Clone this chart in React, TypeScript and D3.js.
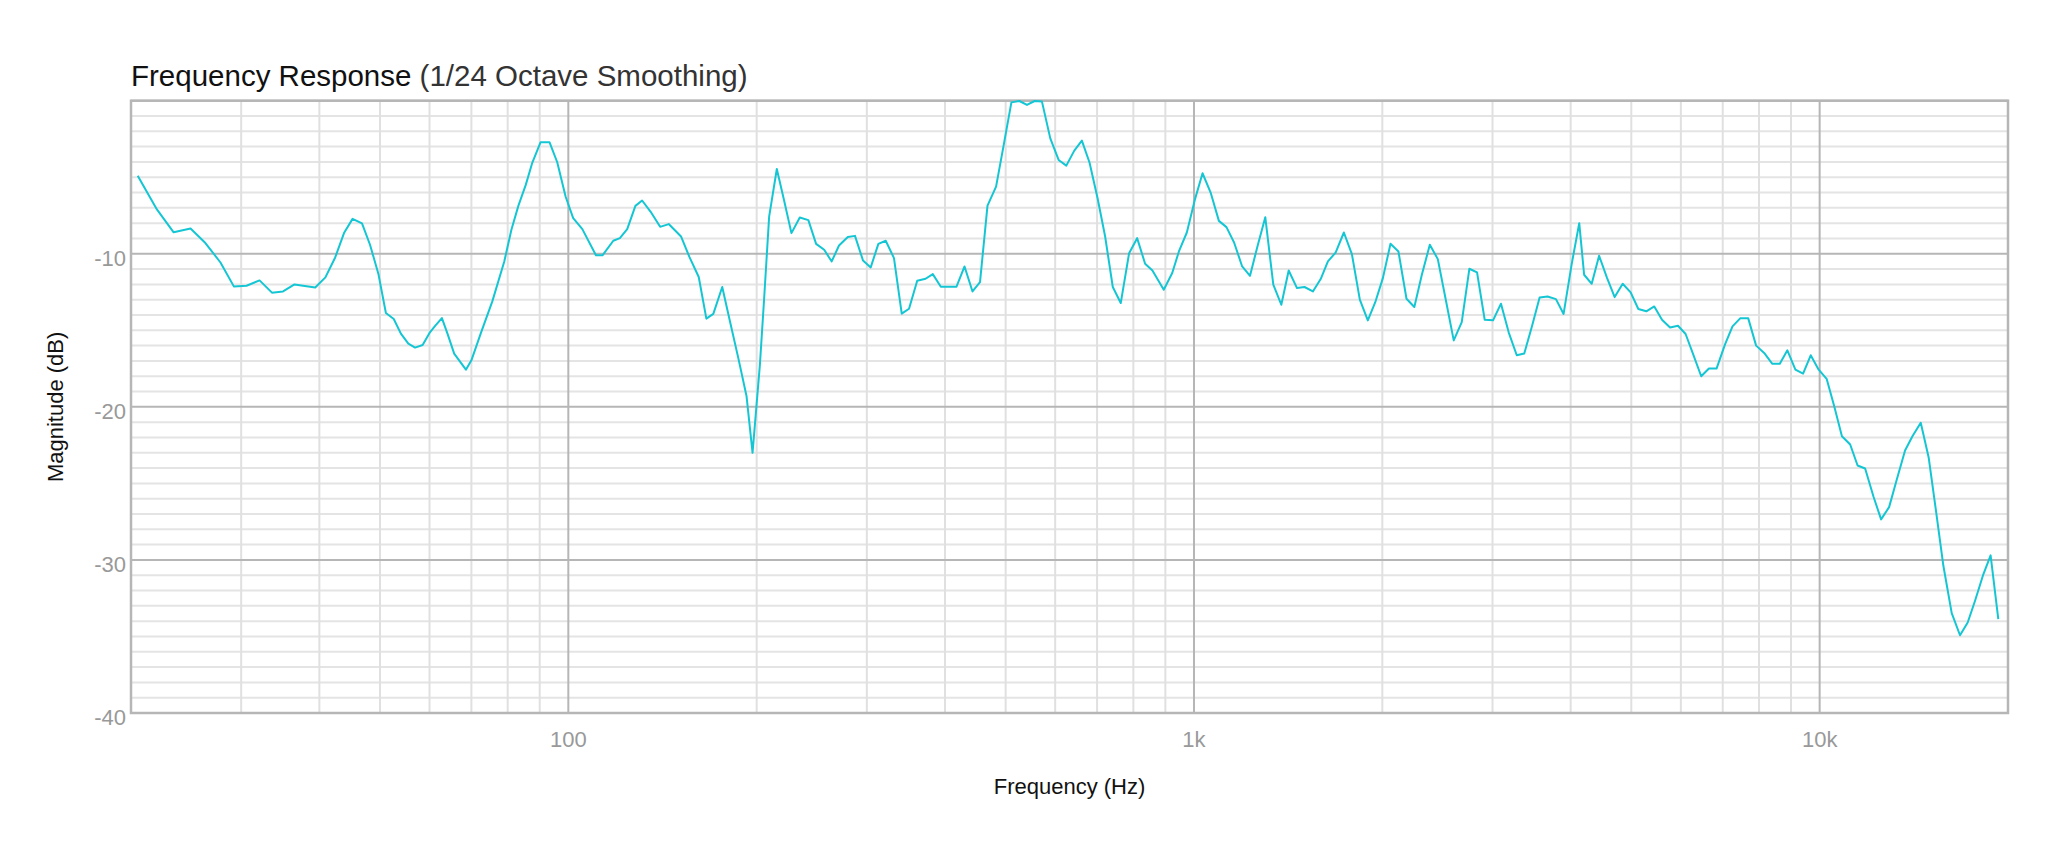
import React from 'react';
import * as d3 from 'd3';

// frequency (Hz) of each smoothed point
const FREQS: number[] = [
  20.5, 22.0, 23.4, 24.9, 26.3, 27.8, 29.2, 30.6, 32.1, 33.6, 35.0, 36.5, 39.4, 40.9, 42.4, 43.8,
  45.2, 46.8, 48.2, 49.7, 51.1, 52.6, 54.0, 55.5, 56.9, 58.5, 60.0, 61.3, 62.8, 64.1, 65.7, 68.6,
  70.0, 72.5, 75.6, 79.0, 81.1, 83.2, 85.5, 87.6, 90.3, 93.3, 96.0, 99.0, 101.8, 105.3, 110.7, 113.4,
  118.0, 120.9, 124.2, 128.0, 131.2, 135.4, 140.2, 144.7, 151.4, 156.2, 161.6, 166.2, 170.5, 176.2,
  181.3, 186.9, 192.7, 197.0, 202.4, 205.6, 209.4, 215.4, 221.3, 227.3, 234.4, 241.9, 248.9, 256.4,
  263.6, 270.8, 279.7, 287.2, 295.8, 304.3, 313.0, 321.6, 331.5, 341.1, 350.4, 361.1, 372.4, 382.4,
  393.9, 417.3, 429.8, 442.6, 455.0, 467.7, 482.7, 496.5, 510.7, 526.0, 540.8, 556.3, 571.5, 589.3,
  607.6, 625.1, 643.7, 661.9, 680.8, 701.3, 721.1, 741.7, 763.7, 787.6, 811.2, 835.4, 858.2, 894.7,
  923, 946, 974, 1003, 1032, 1064, 1096, 1127, 1159, 1194, 1229, 1263, 1300, 1339, 1379, 1417,
  1461, 1502, 1549, 1594, 1637, 1684, 1736, 1788, 1841, 1896, 1948, 2004, 2061, 2122, 2186, 2250,
  2313, 2382, 2453, 2526, 2601, 2679, 2755, 2834, 2915, 3006, 3095, 3184, 3280, 3372, 3469, 3568,
  3674, 3789, 3897, 4013, 4128, 4203, 4322, 4441, 4574, 4703, 4844, 4988, 5131, 5284, 5441, 5598,
  5766, 5937, 6106, 6281, 6467, 6653, 6842, 7057, 7256, 7464, 7689, 7915, 8153, 8396, 8636, 8880,
  9146, 9408, 9676, 9964, 10260, 10551, 10854, 11189, 11498, 11822, 12193, 12537, 12912, 13283, 13693, 14070,
  14507, 14939, 15346, 15769, 16258, 16762, 17243, 17711, 18265, 18760, 19299,
];

// magnitude (dB) at each frequency
const MAGS: number[] = [
  -4.9, -7.1, -8.6, -8.35, -9.3, -10.57, -12.13, -12.09, -11.74, -12.54, -12.46, -12.0, -12.2, -11.54, -10.24, -8.65,
  -7.72, -8.02, -9.41, -11.3, -13.87, -14.26, -15.22, -15.87, -16.13, -15.96, -15.17, -14.7, -14.2, -15.22, -16.52, -17.57,
  -16.96, -15.17, -13.11, -10.5, -8.43, -6.87, -5.5, -4.04, -2.71, -2.71, -4.02, -6.26, -7.67, -8.39, -10.1, -10.1,
  -9.15, -8.98, -8.39, -6.87, -6.52, -7.26, -8.24, -8.06, -8.87, -10.22, -11.52, -14.24, -13.93, -12.17,
  -14.42, -16.8, -19.31, -23.0, -17.24, -12.89, -7.57, -4.46, -6.54, -8.65, -7.63, -7.8, -9.35, -9.74,
  -10.5, -9.46, -8.91, -8.83, -10.44, -10.89, -9.35, -9.15, -10.28, -13.91, -13.59, -11.76, -11.63, -11.33,
  -12.15, -12.15, -10.83, -12.46, -11.85, -6.85, -5.61, -2.89, -0.11, -0.02, -0.28, -0.02, -0.06, -2.46,
  -3.87, -4.24, -3.26, -2.61, -4.04, -6.37, -8.87, -12.17, -13.22, -9.96, -8.98, -10.65, -11.09, -12.35,
  -11.26, -9.85, -8.61, -6.48, -4.74, -6.04, -7.85, -8.26, -9.26, -10.83, -11.44, -9.52, -7.61, -12.02, -13.33, -11.09,
  -12.24, -12.17, -12.46, -11.65, -10.5, -9.92, -8.61, -10.02, -13.0, -14.35, -13.18, -11.59, -9.35, -9.85, -12.94, -13.48,
  -11.37, -9.41, -10.35, -13.0, -15.66, -14.46, -10.98, -11.22, -14.31, -14.35, -13.26, -15.13, -16.63, -16.52, -14.74, -12.85,
  -12.79, -12.96, -13.93, -10.72, -8.0, -11.37, -11.96, -10.13, -11.59, -12.83, -11.96, -12.52, -13.61, -13.76, -13.44, -14.31,
  -14.81, -14.7, -15.24, -16.59, -18.0, -17.5, -17.5, -15.94, -14.74, -14.22, -14.22, -16.0, -16.48, -17.18, -17.18, -16.31,
  -17.57, -17.83, -16.63, -17.57, -18.17, -19.96, -21.92, -22.46, -23.83, -24.03, -25.87, -27.35, -26.55, -24.74, -22.85, -21.92,
  -21.04, -23.33, -26.81, -30.4, -33.48, -34.92, -34.09, -32.68, -30.94, -29.7, -33.87,
];

const X_TICKS: number[] = [100, 1000, 10000];
const X_TICK_LABELS: string[] = ['100', '1k', '10k'];
const X_MINOR: number[] = [30, 40, 50, 60, 70, 80, 90, 200, 300, 400, 500, 600, 700, 800, 900,
  2000, 3000, 4000, 5000, 6000, 7000, 8000, 9000];
const Y_TICKS: number[] = [-40, -30, -20, -10];
const Y_MINOR: number[] = d3.range(-39, 0).filter(v => v % 10 !== 0);

const WIDTH = 2048;
const HEIGHT = 853;
const FONT = '"Liberation Sans", Arial, Helvetica, sans-serif';

const App: React.FC = () => {
  const left = 131;
  const right = 2008;
  const top = 100.7;
  const bottom = 713;

  const xScale = d3.scaleLog().domain([20, 20000]).range([left, right]);
  const yScale = d3.scaleLinear().domain([-40, 0]).range([bottom, top]);

  const points: [number, number][] = FREQS.map((f, i) => [f, MAGS[i]]);
  const line = d3.line<[number, number]>()
    .x(d => xScale(d[0]))
    .y(d => yScale(d[1]));

  return (
    <svg width={WIDTH} height={HEIGHT} style={{ position: 'absolute', left: 0, top: 0, background: '#fff' }}>
      <rect x={0} y={0} width={WIDTH} height={HEIGHT} fill="#fff" />

      {/* minor grid */}
      {Y_MINOR.map(v => (
        <line key={'ym' + v} x1={left} x2={right} y1={yScale(v)} y2={yScale(v)} stroke="#e4e4e4" strokeWidth={2} />
      ))}
      {X_MINOR.map(v => (
        <line key={'xm' + v} x1={xScale(v)} x2={xScale(v)} y1={top} y2={bottom} stroke="#e0e0e0" strokeWidth={2} />
      ))}

      {/* major grid */}
      {Y_TICKS.concat([0]).map(v => (
        <line key={'yM' + v} x1={left} x2={right} y1={yScale(v)} y2={yScale(v)} stroke="#b6b6b6" strokeWidth={2} />
      ))}
      {X_TICKS.map(v => (
        <line key={'xM' + v} x1={xScale(v)} x2={xScale(v)} y1={top} y2={bottom} stroke="#b6b6b6" strokeWidth={2} />
      ))}

      <rect x={left} y={top} width={right - left} height={bottom - top} fill="none" stroke="#b6b6b6" strokeWidth={2.5} />

      <path d={line(points) || ''} fill="none" stroke="#14c6d3" strokeWidth={2} strokeLinejoin="round" />

      {/* tick labels */}
      {Y_TICKS.map(v => (
        <text key={'yl' + v} x={left - 5} y={yScale(v) + 12} textAnchor="end"
          fontFamily={FONT} fontSize={22} fill="#999">{v}</text>
      ))}
      {X_TICKS.map((v, i) => (
        <text key={'xl' + v} x={xScale(v)} y={747} textAnchor="middle"
          fontFamily={FONT} fontSize={22} fill="#999">{X_TICK_LABELS[i]}</text>
      ))}

      {/* axis titles */}
      <text x={(left + right) / 2} y={794} textAnchor="middle" fontFamily={FONT} fontSize={22} fill="#111">
        Frequency (Hz)
      </text>
      <text transform={`translate(63, ${(top + bottom) / 2}) rotate(-90)`} textAnchor="middle"
        fontFamily={FONT} fontSize={22} fill="#111">
        Magnitude (dB)
      </text>

      {/* title */}
      <text x={131} y={86} fontFamily={FONT} fontSize={29.5} fill="#111">
        Frequency Response <tspan fill="#333">(1/24 Octave Smoothing)</tspan>
      </text>
    </svg>
  );
};

export default App;
